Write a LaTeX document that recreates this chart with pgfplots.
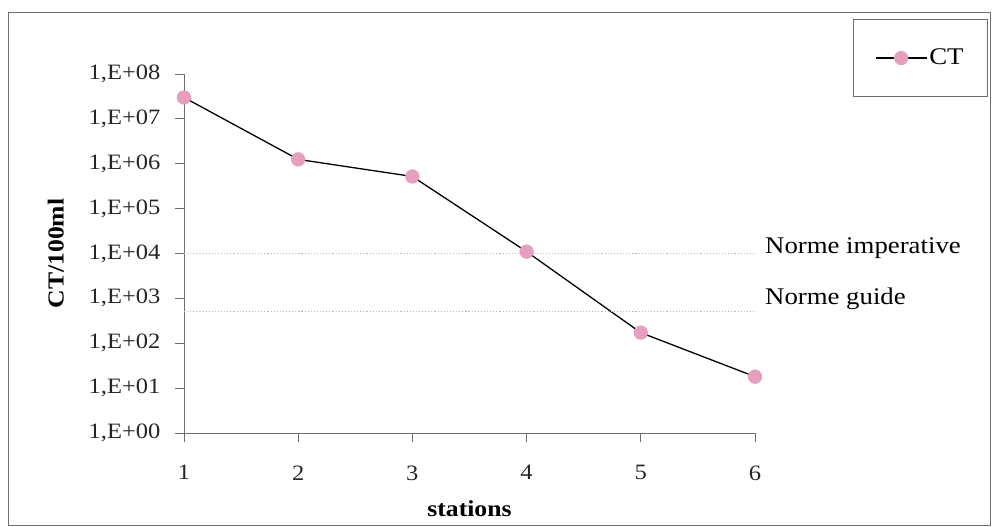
\documentclass[border=0pt]{standalone}
\usepackage{pgfplots}
\pgfplotsset{compat=1.18}
\usepackage{fontspec}
\setmainfont{Liberation Serif}[FakeStretch=1.12]
\definecolor{pinkc}{RGB}{230,160,190}
\definecolor{axgray}{RGB}{110,110,110}
\definecolor{normgray}{RGB}{185,185,185}
\begin{document}
\fontsize{22}{26}\selectfont
\begin{tikzpicture}[x=1bp,y=1bp]
\begin{axis}[
  scale only axis,
  width=571bp, height=359bp,
  xmin=1, xmax=6,
  ymode=log, ymin=1, ymax=1e8,
  axis x line=bottom, axis y line=left,
  axis line style={-, axgray, line width=0.8bp},
  tick style={axgray, line width=0.8bp},
  tick align=outside,
  major tick length=9bp,
  minor tick num=0,
  xtick={1,2,3,4,5,6},
  xticklabels={1,2,3,4,5,6},
  ytick={1,10,100,1000,10000,100000,1000000,10000000,100000000},
  yticklabels={{1,E+00},{1,E+01},{1,E+02},{1,E+03},{1,E+04},{1,E+05},{1,E+06},{1,E+07},{1,E+08}},
  log basis y=10,
  tick label style={font=\fontsize{22}{26}\selectfont, text=black!85},
  yticklabel style={xshift=-7bp},
  xticklabel style={yshift=-16bp},
  /pgf/number format/assume math mode=true,
  xlabel={\textbf{stations}},
  ylabel={\textbf{CT/100ml}},
  label style={font=\fontsize{23}{27}\selectfont},
  xlabel style={yshift=-6bp},
  ylabel style={yshift=10bp},
  clip=false,
  legend style={at={(1.408,1.153)}, anchor=north east, draw=axgray, line width=0.8bp,
    inner xsep=22bp, inner ysep=27bp, font=\fontsize{24}{28}\selectfont,
    /tikz/every even column/.style={column sep=4bp}},
  legend cell align=left,
]
\addplot[black, line width=1.3bp, mark=*, mark size=6.5bp,
  mark options={draw=pinkc, fill=pinkc},
  legend image code/.code={
    \draw[black, line width=1.3bp] (0bp,0bp)--(51bp,0bp);
    \fill[pinkc] (25.5bp,0bp) circle (6.5bp);}]
  coordinates {(1,3.0e7) (2,1.25e6) (3,5.2e5) (4,1.1e4) (5,172) (6,18)};
\addlegendentry{CT}
\addplot[normgray, dotted, line width=1.1bp, forget plot] coordinates {(1,10000) (6,10000)};
\addplot[normgray, dotted, line width=1.1bp, forget plot] coordinates {(1,500) (6,500)};
\node[anchor=west, inner sep=0pt, font=\fontsize{24}{28}\selectfont] at (axis cs:6,10000) [xshift=10bp, yshift=5bp] {Norme imperative};
\node[anchor=west, inner sep=0pt, font=\fontsize{24}{28}\selectfont] at (axis cs:6,500) [xshift=10bp, yshift=13bp] {Norme guide};
\draw[axgray, line width=0.8bp] (rel axis cs:-0.3082,-0.2563) rectangle (rel axis cs:1.4116,1.1727);
\path (rel axis cs:-0.3222,-0.2618) rectangle (rel axis cs:1.4151,1.2061);
\end{axis}
\end{tikzpicture}
\end{document}
